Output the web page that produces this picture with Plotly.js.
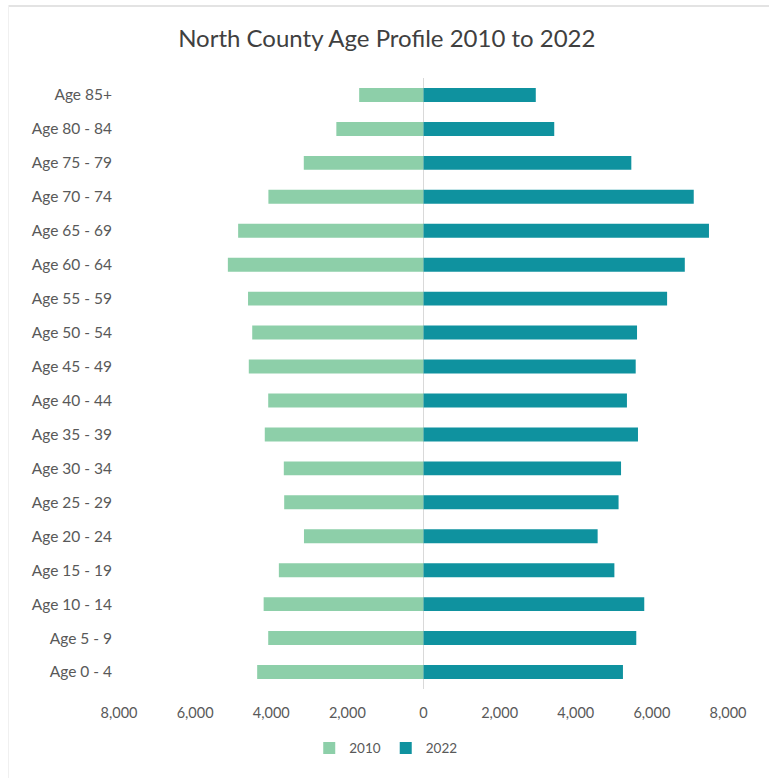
<!DOCTYPE html>
<html>
<head>
<meta charset="utf-8">
<script src="https://cdn.plot.ly/plotly-3.0.1.min.js"></script>
<style>
  html, body { margin: 0; padding: 0; background: #ffffff; }
  #wrap { position: relative; width: 769px; height: 778px; }
  #chart { width: 769px; height: 778px; }
  #topline { position: absolute; left: 9px; right: 0; top: 5px; height: 2px; background: #e3e3e3; z-index: 5; }
  #leftline { position: absolute; left: 8px; top: 5px; bottom: 0; width: 1px; background: #f0f0f0; z-index: 5; }
</style>
</head>
<body>
<div id="wrap">
  <div id="topline"></div>
  <div id="leftline"></div>
  <div id="chart"></div>
</div>
<script>
const categories = ["Age 85+", "Age 80 - 84", "Age 75 - 79", "Age 70 - 74", "Age 65 - 69", "Age 60 - 64",
  "Age 55 - 59", "Age 50 - 54", "Age 45 - 49", "Age 40 - 44", "Age 35 - 39", "Age 30 - 34",
  "Age 25 - 29", "Age 20 - 24", "Age 15 - 19", "Age 10 - 14", "Age 5 - 9", "Age 0 - 4"];
const pop2010 = [1690, 2290, 3145, 4075, 4870, 5140, 4610, 4500, 4590, 4080, 4170, 3670,
  3660, 3140, 3800, 4200, 4080, 4370];
const pop2022 = [2950, 3435, 5460, 7100, 7500, 6865, 6400, 5610, 5575, 5345, 5635, 5190,
  5125, 4575, 5015, 5800, 5590, 5240];
const tickValues = [-8000, -6000, -4000, -2000, 0, 2000, 4000, 6000, 8000];
const tickLabels = ["8,000", "6,000", "4,000", "2,000", "0", "2,000", "4,000", "6,000", "8,000"];

const traces = [
  {
    type: 'bar', orientation: 'h', name: '2010',
    y: categories, x: pop2010.map(v => -v),
    marker: { color: '#8dcfa9' },
    hoverinfo: 'skip'
  },
  {
    type: 'bar', orientation: 'h', name: '2022',
    y: categories, x: pop2022,
    marker: { color: '#0f929f' },
    hoverinfo: 'skip'
  }
];

const layout = {
  width: 769, height: 778,
  paper_bgcolor: '#ffffff', plot_bgcolor: '#ffffff',
  font: { family: 'Lato, "Open Sans", sans-serif', color: '#595959', size: 14 },
  title: { text: 'North County Age Profile 2010 to 2022', font: { size: 24, color: '#404040', family: 'Lato, "Open Sans", sans-serif' },
    x: 0.503, xanchor: 'center', y: 0.951, yanchor: 'middle' },
  margin: { l: 119, r: 41, t: 78, b: 89 },
  barmode: 'relative', bargap: 0.59,
  xaxis: {
    range: [-8000, 8000], tickvals: tickValues, ticktext: tickLabels,
    showgrid: false, zeroline: true, zerolinecolor: '#d9d9d9', zerolinewidth: 1,
    showline: false, ticks: '', ticklabelstandoff: 13,
    tickfont: { size: 14.5, color: '#595959' }, fixedrange: true
  },
  yaxis: {
    autorange: 'reversed', showgrid: false, zeroline: false, showline: false,
    ticks: '', ticklabelstandoff: 6, tickfont: { size: 15.5, color: '#595959' }, fixedrange: true
  },
  showlegend: true,
  legend: { orientation: 'h', x: 0.438, xanchor: 'center', y: -0.097, yanchor: 'middle',
    font: { size: 13.5, color: '#595959' }, itemwidth: 30, traceorder: 'normal' }
};

Plotly.newPlot('chart', traces, layout, { displayModeBar: false, staticPlot: true });
</script>
</body>
</html>
